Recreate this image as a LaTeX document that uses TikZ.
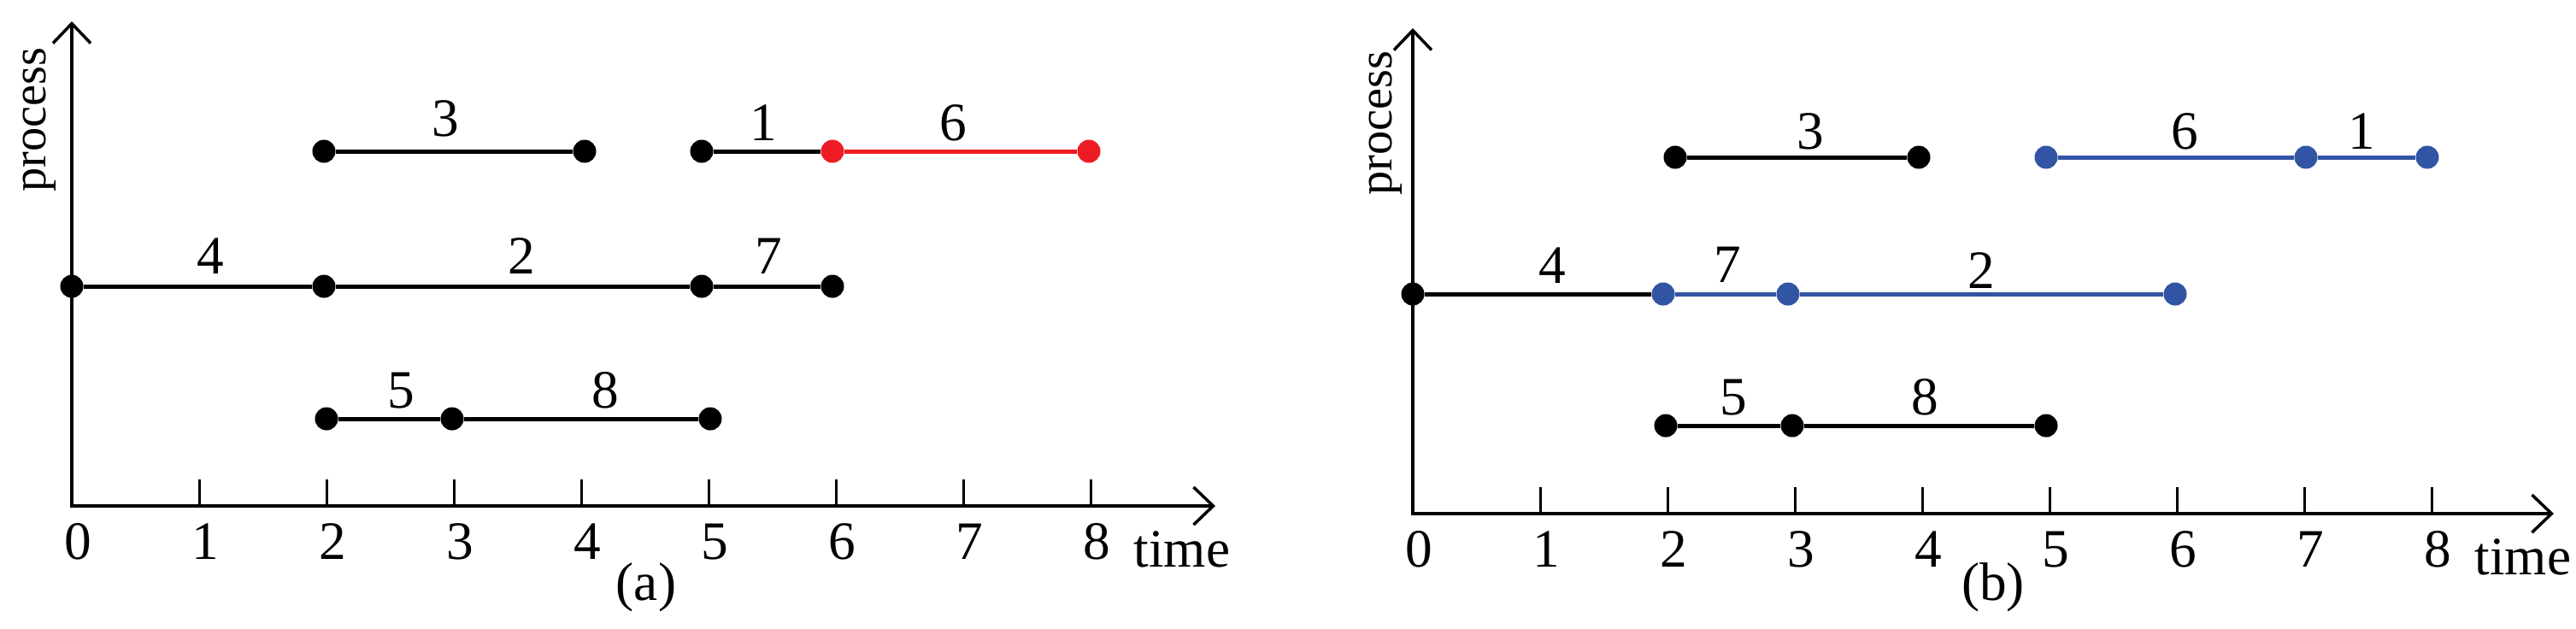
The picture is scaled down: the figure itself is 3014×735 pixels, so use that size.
\documentclass[tikz,border=0pt]{standalone}
\usepackage{fontspec}
\setmainfont{Liberation Serif}
\usetikzlibrary{arrows.meta}
\definecolor{myred}{RGB}{237,28,36}
\definecolor{myblue}{RGB}{50,84,164}
\tikzset{
 axes/.style={line width=0.045cm, {Straight Barb[length=0.23cm,width=0.44cm,line width=0.035cm]}-{Straight Barb[length=0.23cm,width=0.44cm,line width=0.035cm]}},
 tickmark/.style={line width=0.03cm},
 seg/.style={line width=0.05cm},
 dot/.style={circle, fill=black, inner sep=0pt, minimum size=0.27cm},
 rdot/.style={dot, fill=myred},
 bdot/.style={dot, fill=myblue},
 lab/.style={font=\fontsize{18}{20}\selectfont, inner sep=0pt},
 ylab/.style={font=\fontsize{16}{18}\selectfont, inner sep=0pt, rotate=90},
}
\begin{document}
\begin{tikzpicture}[x=0.01cm, y=-0.01cm]
\useasboundingbox (0,0) rectangle (3014,735);
% ---------------- panel (a) ----------------
\coordinate (Oa) at (84,592);
\coordinate (Ya) at (84,25);
\coordinate (Xa) at (1422,592);
\draw[axes] (Ya) -- (Oa) -- (Xa);
\foreach \i in {1,...,8} \draw[tickmark] ({84+149*\i},592) -- ({84+149*\i},561);
\foreach \i in {0,...,8} \node[lab] (ta\i) at ({91+149*\i},634) {\i};
\node[lab, anchor=base] (timea) at (1383,663) {time};
\node[lab] (capa) at (756,687) {(a)};
\node[ylab] (proca) at (46,140) {process};
% dots
\node[dot] (a31) at (379,177) {};
\node[dot] (a32) at (684,177) {};
\node[dot] (a11) at (821,177) {};
\node[rdot] (a61) at (974,177) {};
\node[rdot] (a62) at (1274,177) {};
\node[dot] (a41) at (84,335) {};
\node[dot] (a21) at (379,335) {};
\node[dot] (a71) at (821,335) {};
\node[dot] (a72) at (974,335) {};
\node[dot] (a51) at (382,490) {};
\node[dot] (a81) at (529,490) {};
\node[dot] (a82) at (831,490) {};
\draw[seg] (a31) -- (a32);
\draw[seg] (a11) -- (a61);
\draw[seg, myred] (a61) -- (a62);
\draw[seg] (a41) -- (a21);
\draw[seg] (a21) -- (a71);
\draw[seg] (a71) -- (a72);
\draw[seg] (a51) -- (a81);
\draw[seg] (a81) -- (a82);
\node[lab] (la3) at (521,139) {3};
\node[lab] (la1) at (893,144) {1};
\node[lab] (la6) at (1115,144) {6};
\node[lab] (la4) at (246,300) {4};
\node[lab] (la2) at (610,300) {2};
\node[lab] (la7) at (899,300) {7};
\node[lab] (la5) at (469,457) {5};
\node[lab] (la8) at (708,457) {8};
% ---------------- panel (b) ----------------
\coordinate (Ob) at (1653,601);
\coordinate (Yb) at (1653,33);
\coordinate (Xb) at (2988,601);
\draw[axes] (Yb) -- (Ob) -- (Xb);
\foreach \i in {1,...,8} \draw[tickmark] ({1653+149*\i},601) -- ({1653+149*\i},570);
\foreach \i in {0,...,8} \node[lab] (tb\i) at ({1660+149*\i},643) {\i};
\node[lab, anchor=base] (timeb) at (2952,672) {time};
\node[lab] (capb) at (2332,687) {(b)};
\node[ylab] (procb) at (1621,144) {process};
% dots
\node[dot] (b31) at (1960,184) {};
\node[dot] (b32) at (2245,184) {};
\node[bdot] (b61) at (2394,184) {};
\node[bdot] (b11) at (2698,184) {};
\node[bdot] (b12) at (2840,184) {};
\node[dot] (b41) at (1653,344) {};
\node[bdot] (b71) at (1946,344) {};
\node[bdot] (b21) at (2092,344) {};
\node[bdot] (b22) at (2545,344) {};
\node[dot] (b51) at (1949,498) {};
\node[dot] (b81) at (2097,498) {};
\node[dot] (b82) at (2394,498) {};
\draw[seg] (b31) -- (b32);
\draw[seg, myblue] (b61) -- (b11);
\draw[seg, myblue] (b11) -- (b12);
\draw[seg] (b41) -- (b71);
\draw[seg, myblue] (b71) -- (b21);
\draw[seg, myblue] (b21) -- (b22);
\draw[seg] (b51) -- (b81);
\draw[seg] (b81) -- (b82);
\node[lab] (lb3) at (2118,154) {3};
\node[lab] (lb6) at (2556,154) {6};
\node[lab] (lb1) at (2763,154) {1};
\node[lab] (lb4) at (1816,311) {4};
\node[lab] (lb7) at (2021,310) {7};
\node[lab] (lb2) at (2318,317) {2};
\node[lab] (lb5) at (2028,465) {5};
\node[lab] (lb8) at (2252,465) {8};
\end{tikzpicture}
\end{document}
